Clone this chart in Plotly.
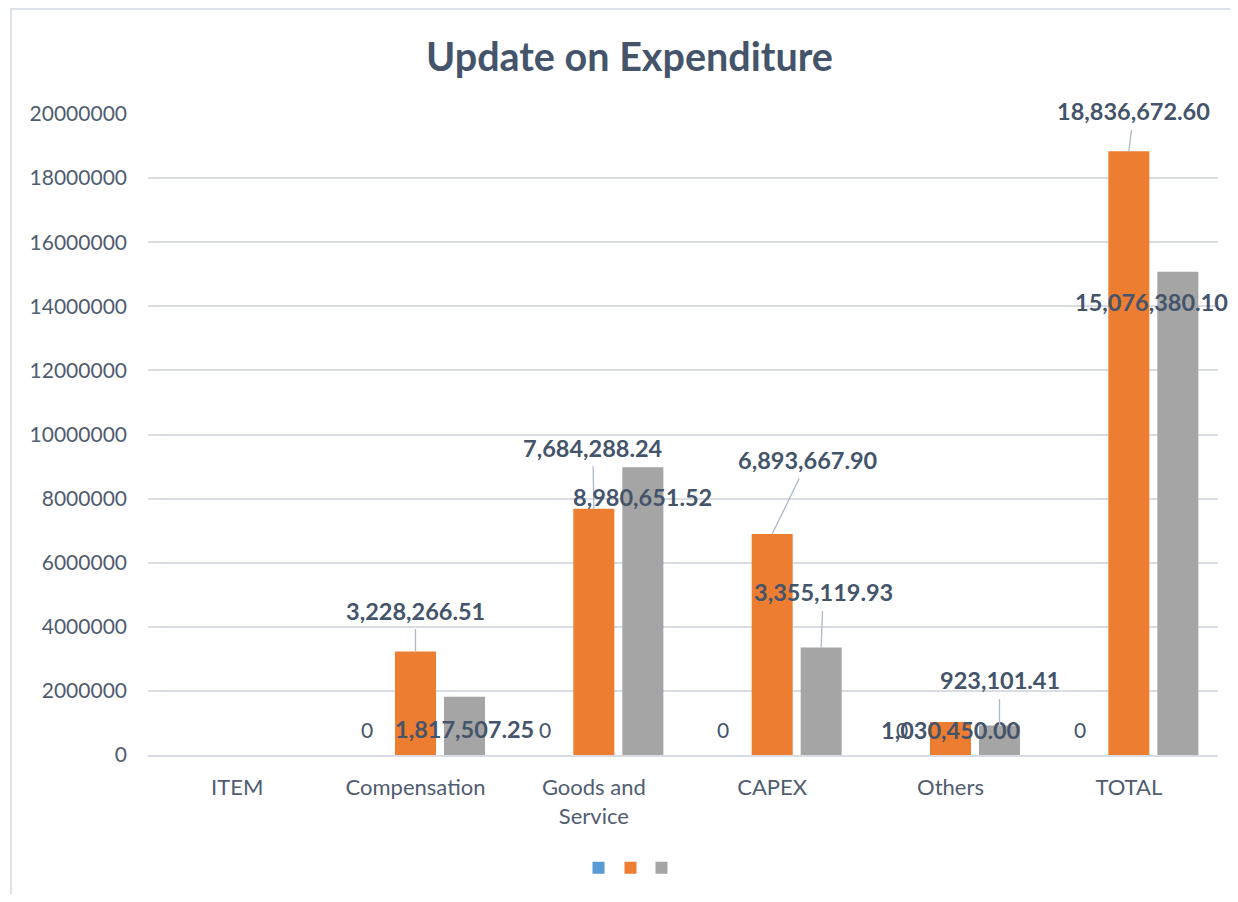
import plotly.graph_objects as go

categories = ["ITEM", "Compensation", "Goods and Service", "CAPEX", "Others", "TOTAL"]
tick_text = ["ITEM", "Compensation", "Goods and<br>Service", "CAPEX", "Others", "TOTAL"]
series1 = [None, 0, 0, 0, 0, 0]
series2 = [None, 3228266.51, 7684288.24, 6893667.90, 1030450.00, 18836672.60]
series3 = [None, 1817507.25, 8980651.52, 3355119.93, 923101.41, 15076380.10]
y_ticks = [0, 2000000, 4000000, 6000000, 8000000, 10000000, 12000000,
           14000000, 16000000, 18000000, 20000000]

colors = ["#5B9BD5", "#ED7D31", "#A5A5A5"]
label_color = "#44546A"
tick_color = "#505C70"
FONT = "Lato"

legend_names = ["legend", "legend2", "legend3"]
fig = go.Figure()
for vals, col, lg in zip([series1, series2, series3], colors, legend_names):
    fig.add_trace(go.Bar(x=categories, y=vals, marker=dict(color=col, line=dict(width=0)),
                         name="", showlegend=True, legend=lg))

# label placement (pixel offsets of label centre from bar top; leader line flag)
series_shift = [-49, 0, 49]
label_layout = {
    (1, 1): (0, -41, True), (2, 1): (0, 32, False),
    (1, 2): (-1, -61, True), (2, 2): (0, 30, False),
    (1, 3): (36, -74, True), (2, 3): (2, -55, True),
    (1, 4): (0, 8, False), (2, 4): (0, -45, True),
    (1, 5): (5, -40, True), (2, 5): (-26, 30, False),
}

annotations = []
for i, v in enumerate(series1):
    if v is None:
        continue
    annotations.append(dict(x=categories[i], y=v, xref="x", yref="y", text=f"{v:,.0f}",
                            showarrow=False, xshift=series_shift[0], yshift=26,
                            font=dict(family=FONT, size=21, color=label_color)))
for s, vals in [(1, series2), (2, series3)]:
    for i, v in enumerate(vals):
        if v is None:
            continue
        dx, dy, line = label_layout[(s, i)]
        base = dict(x=categories[i], y=v, xref="x", yref="y", text=f"{v:,.2f}",
                    font=dict(family=FONT, size=23.5, color=label_color, weight="bold"))
        if line:
            base.update(showarrow=True, ax=dx, ay=dy, axref="pixel", ayref="pixel",
                        arrowhead=0, arrowwidth=1.3, arrowcolor="#ADB9CA",
                        xshift=series_shift[s], borderpad=4, standoff=0)
        else:
            base.update(showarrow=False, xshift=series_shift[s] + dx, yshift=-dy)
        annotations.append(base)

leg_common = dict(orientation="h", y=-0.176, yanchor="middle", xanchor="center",
                  itemsizing="constant", font=dict(size=2), itemwidth=30,
                  bgcolor="rgba(0,0,0,0)")
leg_x = [(601 - 8 - 140) / 1070, (633 - 8 - 140) / 1070, (664 - 8 - 140) / 1070]

fig.update_layout(
    width=1222, height=886,
    margin=dict(l=140, r=12, t=106, b=139),
    paper_bgcolor="white", plot_bgcolor="white",
    barmode="group", bargap=0.1755, bargroupgap=0.163,
    title=dict(text="<b>Update on Expenditure</b>", x=621.5 / 1222, xanchor="center",
               y=1 - 49 / 886, yanchor="middle", yref="container",
               font=dict(family=FONT, size=39.5, color=label_color)),
    font=dict(family=FONT, color=tick_color),
    xaxis=dict(tickmode="array", tickvals=categories, ticktext=tick_text,
               range=[-0.5, len(categories) - 0.5], autorange=False,
               tickfont=dict(family=FONT, size=22, color=tick_color),
               showline=True, linecolor="#D9DCE3", linewidth=1.5,
               showgrid=False, ticks="", ticklabelstandoff=12),
    yaxis=dict(range=[0, 20000000], autorange=False, tickvals=y_ticks, tickformat="d",
               tickfont=dict(family=FONT, size=21, color=tick_color),
               showgrid=True, gridcolor="#D9DCE3", gridwidth=1.5,
               zeroline=False, showline=False, ticks="", ticklabelstandoff=20),
    legend=dict(x=leg_x[0], **leg_common),
    legend2=dict(x=leg_x[1], **leg_common),
    legend3=dict(x=leg_x[2], **leg_common),
    annotations=annotations,
    shapes=[dict(type="rect", xref="paper", yref="paper",
                 x0=(3 - 140) / 1070, x1=1.2, y0=-0.4, y1=(747 - 1) / 641,
                 line=dict(color="#DCE1EA", width=2), fillcolor="rgba(0,0,0,0)",
                 layer="below")],
)

fig.write_html("out.html")
